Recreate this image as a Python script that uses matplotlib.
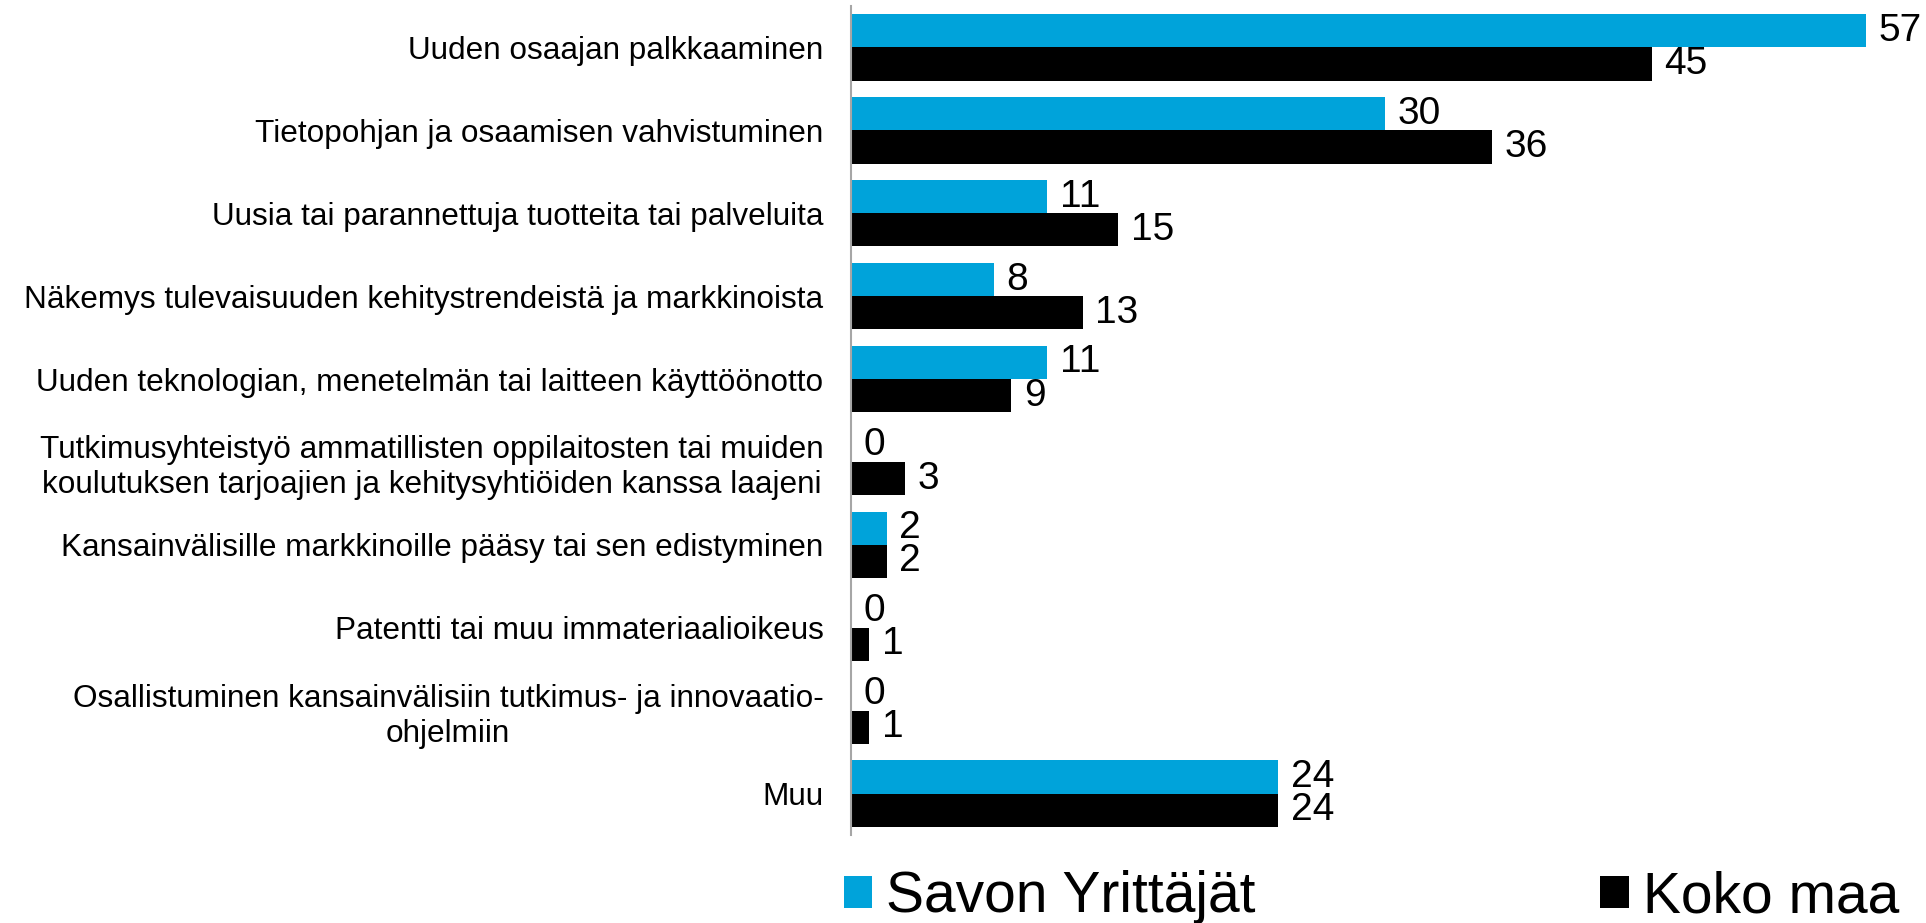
import matplotlib
matplotlib.use("Agg")
import matplotlib.pyplot as plt
import numpy as np

plt.rcParams['font.family'] = ['Liberation Sans', 'DejaVu Sans']

# Kategoriat ja arvot (%)
categories = [
    "Uuden osaajan palkkaaminen",
    "Tietopohjan ja osaamisen vahvistuminen",
    "Uusia tai parannettuja tuotteita tai palveluita",
    "Näkemys tulevaisuuden kehitystrendeistä ja markkinoista",
    "Uuden teknologian, menetelmän tai laitteen käyttöönotto",
    "Tutkimusyhteistyö ammatillisten oppilaitosten tai muiden\nkoulutuksen tarjoajien ja kehitysyhtiöiden kanssa laajeni",
    "Kansainvälisille markkinoille pääsy tai sen edistyminen",
    "Patentti tai muu immateriaalioikeus",
    "Osallistuminen kansainvälisiin tutkimus- ja innovaatio-\nohjelmiin",
    "Muu",
]
savo = [57, 30, 11, 8, 11, 0, 2, 0, 0, 24]
koko_maa = [45, 36, 15, 13, 9, 3, 2, 1, 1, 24]
series_names = ["Savon Yrittäjät", "Koko maa"]

col_savo = "#00A3DA"
col_koko = "#000000"

fig = plt.figure(figsize=(19.26, 9.23), dpi=100)
ax = fig.add_axes([0.442, 0.0953, 0.558, 0.8982])

y = np.arange(len(categories))
h = 0.4
b1 = ax.barh(y - h / 2, savo, height=h, color=col_savo, label=series_names[0])
b2 = ax.barh(y + h / 2, koko_maa, height=h, color=col_koko, label=series_names[1])

# arvot palkkien perään
for bars, vals in ((b1, savo), (b2, koko_maa)):
    for rect, v in zip(bars, vals):
        ax.annotate(f"{v}", xy=(v, rect.get_y() + rect.get_height() / 2),
                    xytext=(9, 0), textcoords="offset points",
                    ha="left", va="center", fontsize=28)

ax.set_xlim(0, 60.4)
ax.set_ylim(len(categories) - 0.5, -0.5)
ax.set_xticks([])
ax.set_yticks(y)
ax.set_yticklabels(categories, fontsize=22.7)
for lbl in ax.get_yticklabels():
    lbl.set_multialignment("center")
ax.tick_params(axis="y", length=0, pad=20)

for s in ["top", "right", "bottom"]:
    ax.spines[s].set_visible(False)
ax.spines["left"].set_color("#A6A6A6")
ax.spines["left"].set_linewidth(1.5)

fig.legend(handles=[b1, b2], labels=series_names, loc="center left",
           bbox_to_anchor=(0.438, 0.028), ncol=2, frameon=False,
           prop={"size": 41}, handlelength=0.5, handleheight=0.5,
           handletextpad=0.25, columnspacing=6.05, borderpad=0,
           borderaxespad=0)

fig.savefig("out.png", dpi=100)
